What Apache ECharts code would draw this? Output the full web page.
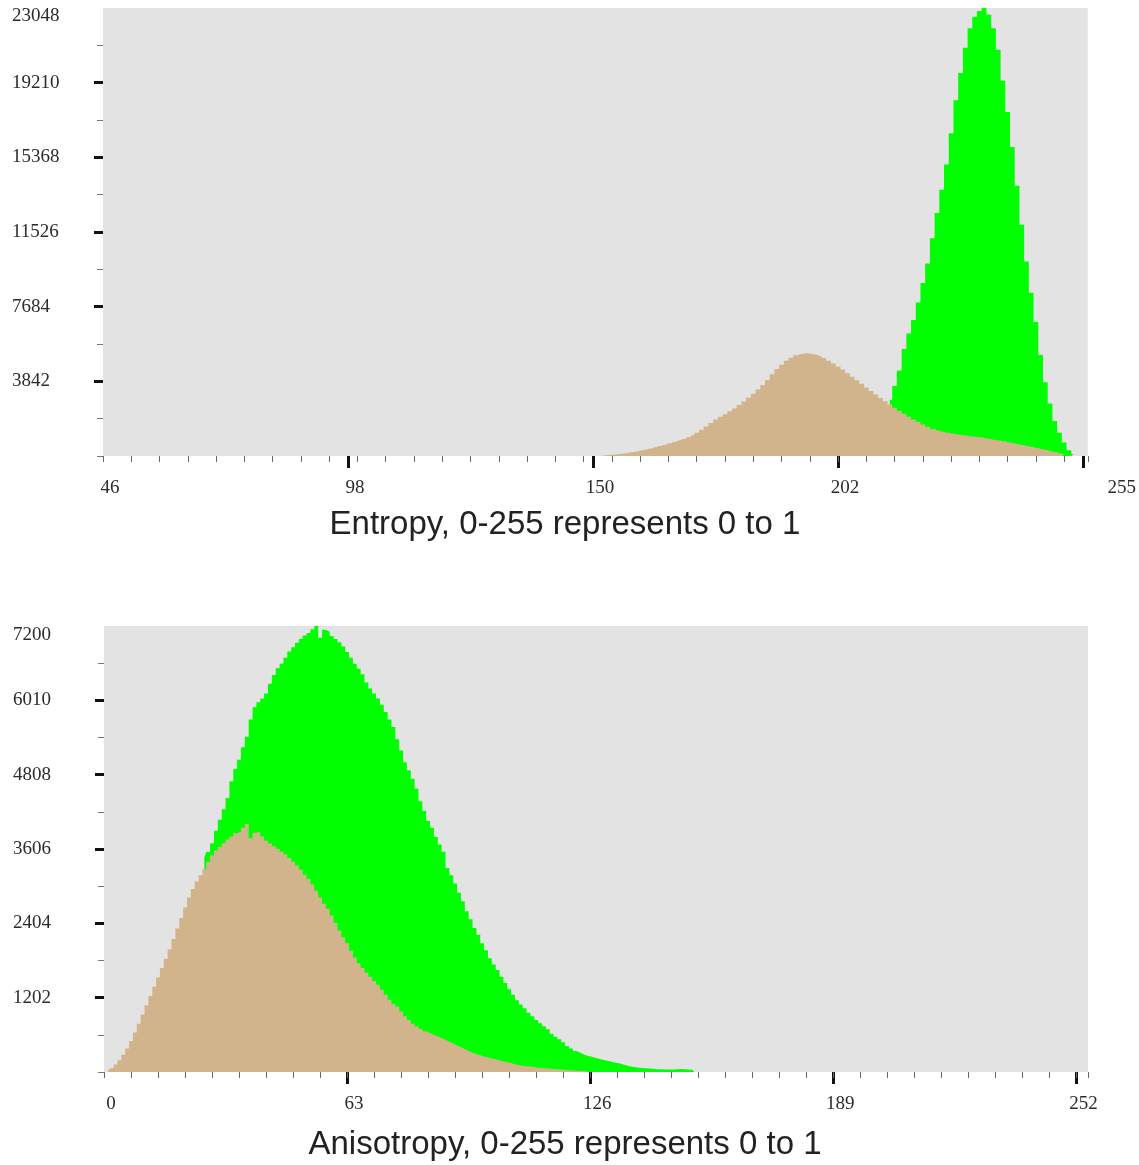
<!DOCTYPE html>
<html lang="en">
<head>
<meta charset="UTF-8">
<title>Entropy / Anisotropy histograms</title>
<style>
  * { padding: 0; margin: 0; }
  body { background: #fff; }
</style>
</head>
<body>
<div id="main" style="width:1139px;height:1165px;"></div>
<script src="https://cdn.jsdelivr.net/npm/echarts@6/dist/echarts.min.js"></script>
<script>
// ---- entropy histogram (bins 46..255) ----
var entropyTanStart = 152;
var entropyTan = [
  30, 50, 70, 90, 120, 150, 190, 230, 280, 330,
  390, 450, 510, 580, 650, 720, 800, 880, 970, 1070,
  1200, 1350, 1520, 1700, 1880, 2020, 2150, 2300, 2450, 2620,
  2800, 3000, 3200, 3420, 3650, 3900, 4200, 4480, 4700, 4900,
  5050, 5180, 5250, 5280, 5260, 5220, 5150, 5040, 4900, 4760,
  4600, 4450, 4260, 4080, 3900, 3720, 3530, 3350, 3170, 2990,
  2820, 2650, 2480, 2320, 2170, 2020, 1880, 1750, 1620, 1500,
  1390, 1310, 1250, 1200, 1160, 1120, 1080, 1050, 1020, 990,
  960, 920, 880, 840, 800, 760, 710, 660, 610, 560,
  510, 460, 410, 360, 310, 250, 190, 130, 60
];
var entropyGreenStart = 213;
var entropyGreen = [
  2900, 3600, 4400, 5500, 6300, 7000, 7900, 8900, 9900, 11200,
  12500, 13700, 15000, 16600, 18300, 19700, 21000, 22000, 22600, 22900,
  23048, 22700, 22000, 20900, 19300, 17700, 15900, 13900, 11900, 10000,
  8400, 6900, 5200, 3800, 2700, 1800, 1200, 700, 300, 100
];
var entropyYLabels = [3842, 7684, 11526, 15368, 19210, 23048];
var entropyXLabels = [46, 98, 150, 202, 255];
var entropyXMajor = [98, 150, 202, 254];

// ---- anisotropy histogram (bins 0..255) ----
var anisoTanStart = 1;
var anisoTan = [
  20, 60, 120, 190, 280, 380, 500, 640, 780, 930,
  1080, 1230, 1380, 1530, 1680, 1830, 1980, 2150, 2320, 2490,
  2660, 2820, 2960, 3080, 3180, 3280, 3400, 3500, 3580, 3640,
  3700, 3760, 3810, 3860, 3880, 3950, 4010, 3780, 3870, 3880,
  3810, 3740, 3700, 3650, 3610, 3560, 3520, 3460, 3400, 3340,
  3270, 3190, 3120, 3030, 2930, 2820, 2720, 2640, 2530, 2410,
  2290, 2180, 2080, 1960, 1850, 1760, 1680, 1610, 1540, 1470,
  1410, 1330, 1250, 1170, 1100, 1060, 980, 900, 840, 780,
  740, 700, 660, 630, 600, 580, 550, 520, 490, 460,
  430, 400, 370, 340, 310, 290, 270, 250, 235, 220,
  205, 190, 170, 160, 145, 125, 110, 100, 95, 90,
  80, 70, 65, 60, 55, 50, 45, 40, 35, 30,
  26, 22, 18, 15, 12, 10
];
var anisoGreenStart = 26;
var anisoGreen = [
  3470, 3560, 3700, 3900, 4080, 4250, 4430, 4700, 4900, 5050,
  5250, 5420, 5700, 5900, 5980, 6040, 6120, 6280, 6420, 6530,
  6600, 6700, 6800, 6870, 6940, 7000, 7060, 7100, 7160, 7212,
  7020, 7150, 7120, 7050, 7000, 6950, 6880, 6790, 6700, 6600,
  6520, 6430, 6300, 6200, 6120, 6040, 5940, 5820, 5700, 5580,
  5380, 5200, 5010, 4880, 4740, 4580, 4380, 4220, 4060, 3950,
  3800, 3680, 3560, 3300, 3180, 3050, 2900, 2760, 2600, 2470,
  2330, 2220, 2080, 1970, 1840, 1740, 1650, 1540, 1440, 1340,
  1250, 1160, 1090, 1030, 960, 900, 840, 790, 740, 690,
  620, 570, 530, 480, 420, 380, 340, 310, 280, 260,
  245, 225, 210, 195, 180, 165, 150, 140, 120, 105,
  90, 80, 70, 65, 60, 55, 50, 45, 45, 40,
  40, 40, 45, 50, 45, 40, 35, 30
];
var anisoYLabels = [1202, 2404, 3606, 4808, 6010, 7200];
var anisoXLabels = [0, 63, 126, 189, 252];
var anisoXMajor = [63, 126, 189, 252];

var TAN = '#d2b48c';
var GREEN = '#00ff00';
var SERIF = '"Liberation Serif", "DejaVu Serif", serif';
var TEXT = '#2b2b2b';

function pairs(start, arr) {
  return arr.map(function (v, i) { return [start + i, v]; });
}
// minor y ticks sit halfway between the labelled ones (and one at 0)
function halfTicks(labels) {
  var out = [0];
  for (var i = 0; i < labels.length; i++) {
    out.push(((i ? labels[i - 1] : 0) + labels[i]) / 2);
  }
  return out;
}

function yMain(gi, max, labels) {
  var last = labels[labels.length - 1];
  return {
    type: 'value', gridIndex: gi, position: 'left', min: 0, max: max,
    axisLine: { show: false }, splitLine: { show: false },
    axisTick: { show: true, customValues: labels.slice(0, -1), length: 9,
      lineStyle: { color: '#111', width: 3 } },
    axisLabel: {
      customValues: labels, align: 'left', margin: 91,
      fontFamily: SERIF, fontSize: 19, color: TEXT,
      formatter: function (v) { return v === last ? '{top|' + v + '}' : String(v); },
      rich: { top: { padding: [16, 0, 0, 0], fontFamily: SERIF, fontSize: 19, color: TEXT } }
    }
  };
}
function yMinor(gi, max, labels) {
  return {
    type: 'value', gridIndex: gi, position: 'left', min: 0, max: max,
    axisLine: { show: false }, splitLine: { show: false }, axisLabel: { show: false },
    axisTick: { show: true, customValues: halfTicks(labels), length: 6,
      lineStyle: { color: '#777', width: 1 } }
  };
}
function xMain(gi, min, max, labels, major, far) {
  return {
    type: 'value', gridIndex: gi, position: 'bottom', min: min, max: max,
    axisLine: { show: false }, splitLine: { show: false },
    axisTick: { show: true, customValues: major, length: 12,
      lineStyle: { color: '#111', width: 3 } },
    axisLabel: {
      customValues: labels, margin: 23,
      fontFamily: SERIF, fontSize: 19, color: TEXT,
      formatter: function (v) { return (v === far ? '{far|' : '{n|') + v + '}'; },
      rich: {
        n: { padding: [0, 0, 0, 14], fontFamily: SERIF, fontSize: 19, color: TEXT },
        far: { padding: [0, 0, 0, 68], fontFamily: SERIF, fontSize: 19, color: TEXT }
      }
    }
  };
}
function xMinor(gi, min, max, step) {
  return {
    type: 'value', gridIndex: gi, position: 'bottom', min: min, max: max, interval: step,
    axisLine: { show: false }, splitLine: { show: false }, axisLabel: { show: false },
    axisTick: { show: true, length: 6, lineStyle: { color: '#666', width: 1 } }
  };
}
function histo(xi, yi, data, color) {
  return {
    type: 'line', xAxisIndex: xi, yAxisIndex: yi, data: data,
    step: 'middle', symbol: 'none', silent: true,
    lineStyle: { width: 0 }, areaStyle: { color: color, opacity: 1 }
  };
}

var option = {
  animation: false,
  grid: [
    { left: 103, top: 8, width: 985, height: 448, show: true, backgroundColor: '#e3e3e3', borderWidth: 0 },
    { left: 104, top: 626, width: 984, height: 446, show: true, backgroundColor: '#e3e3e3', borderWidth: 0 }
  ],
  xAxis: [
    xMain(0, 46, 255, entropyXLabels, entropyXMajor, 255),
    xMinor(0, 46, 255, 6),
    xMain(1, 0, 255, anisoXLabels, anisoXMajor, null),
    xMinor(1, 0, 255, 7)
  ],
  yAxis: [
    yMain(0, 23048, entropyYLabels),
    yMinor(0, 23048, entropyYLabels),
    yMain(1, 7212, anisoYLabels),
    yMinor(1, 7212, anisoYLabels)
  ],
  graphic: [
    { type: 'text', x: 565, y: 525, silent: true,
      style: { text: 'Entropy, 0-255 represents 0 to 1', align: 'center', verticalAlign: 'middle',
        fontFamily: '"Liberation Sans", Arial, sans-serif', fontSize: 33, fill: '#222' } },
    { type: 'text', x: 565, y: 1145, silent: true,
      style: { text: 'Anisotropy, 0-255 represents 0 to 1', align: 'center', verticalAlign: 'middle',
        fontFamily: '"Liberation Sans", Arial, sans-serif', fontSize: 33, fill: '#222' } }
  ],
  series: [
    // green drawn first so the tan histogram sits in front of it
    histo(0, 0, pairs(entropyGreenStart, entropyGreen), GREEN),
    histo(0, 0, pairs(entropyTanStart, entropyTan), TAN),
    histo(2, 2, pairs(anisoGreenStart, anisoGreen), GREEN),
    histo(2, 2, pairs(anisoTanStart, anisoTan), TAN)
  ]
};

var myChart = echarts.init(document.getElementById('main'));
myChart.setOption(option);
</script>
</body>
</html>
